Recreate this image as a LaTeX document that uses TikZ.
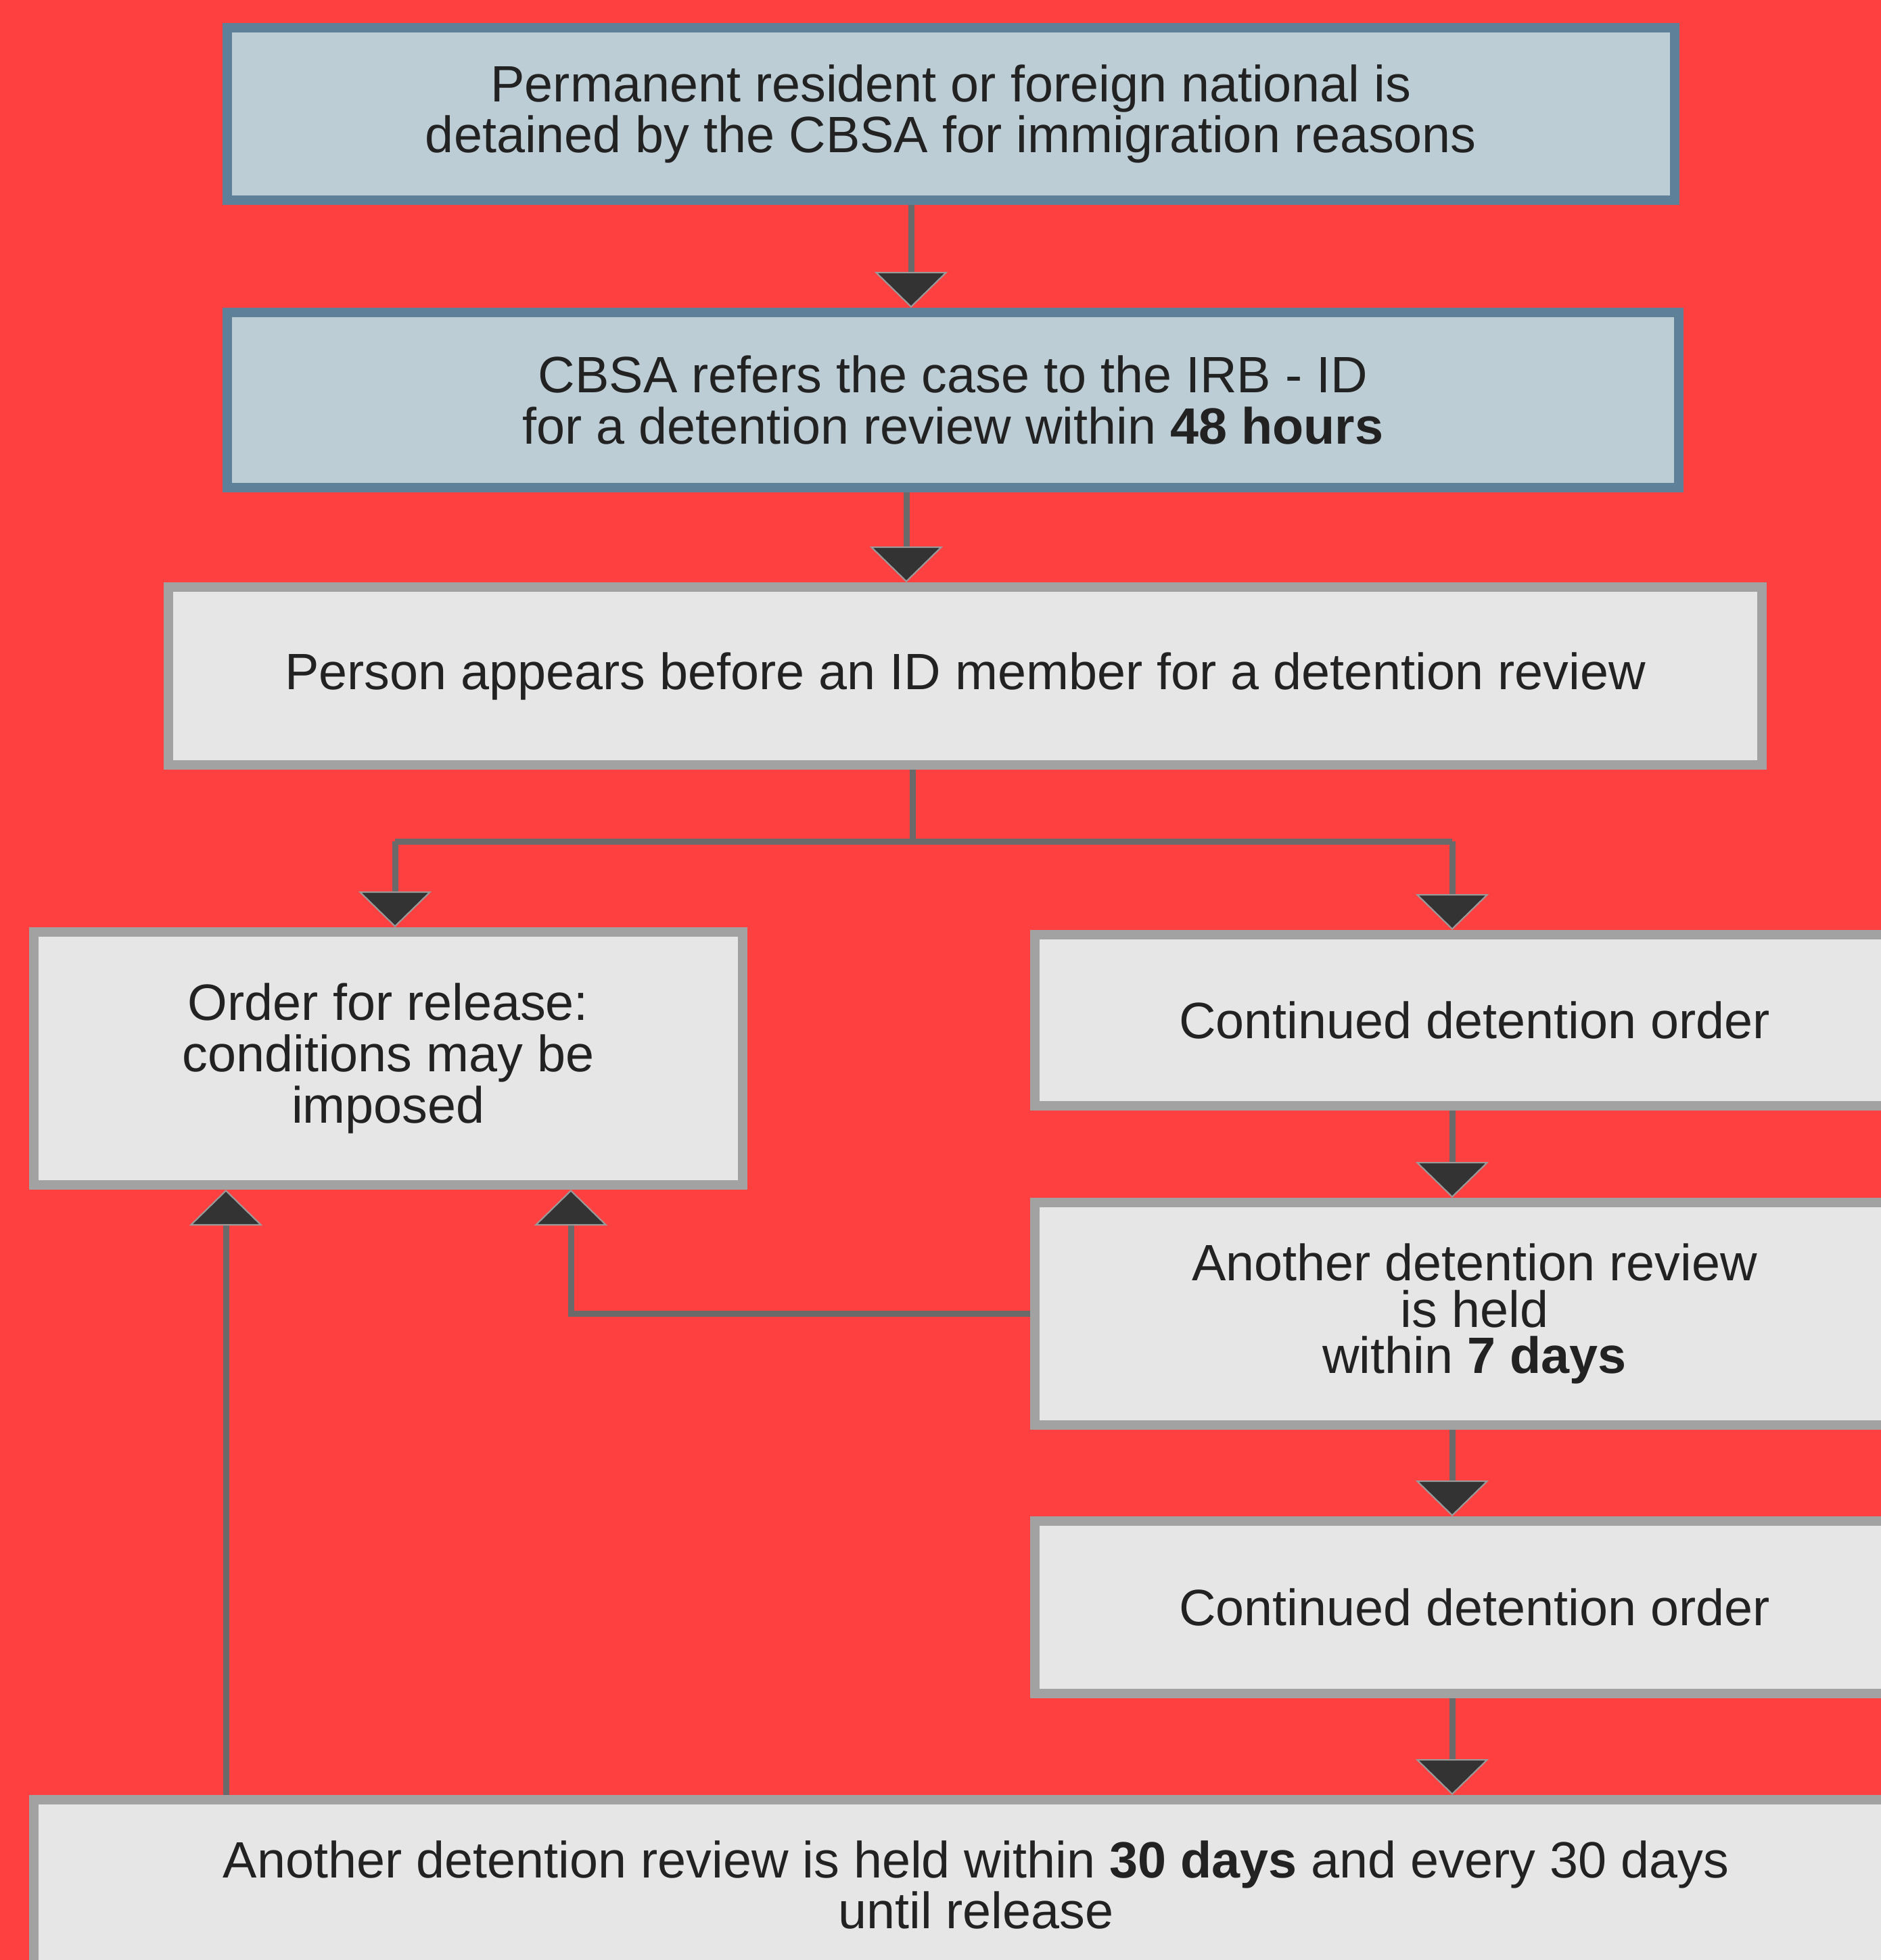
\documentclass[tikz,border=0pt]{standalone}
\usepackage{fontspec}
\setmainfont{Liberation Sans}
\usetikzlibrary{arrows.meta}

\definecolor{bgred}{HTML}{FF4040}
\definecolor{bluefill}{HTML}{BDCDD5}
\definecolor{blueedge}{HTML}{5E8199}
\definecolor{greyfill}{HTML}{E6E6E6}
\definecolor{greyedge}{HTML}{A2A2A2}
\definecolor{linegrey}{HTML}{6A6A6A}
\definecolor{headdark}{HTML}{333333}
\definecolor{headedge}{HTML}{9A9A9A}
\definecolor{textdark}{HTML}{222222}

\begin{document}
\begin{tikzpicture}[
	box/.style={rectangle, align=center, inner sep=0pt, line width=0.14cm,
		text=textdark, font=\fontsize{21.5}{21.5}\selectfont},
	bluebox/.style={box, fill=bluefill, draw=blueedge},
	greybox/.style={box, fill=greyfill, draw=greyedge},
	conn/.style={draw=linegrey, line width=0.09cm},
	arr/.style={conn, -{Triangle[width=1.08cm,length=0.53cm,fill=headdark,color=headedge,line width=0.6pt]}}
	]
	\useasboundingbox (0,0) rectangle (27.81,-28.98);
	\clip (0,0) rectangle (27.81,-28.98);
	\fill[bgred] (0,0) rectangle (27.81,-28.98);

	\begin{scope}
		% referral
		\node[bluebox, minimum width=21.40cm, minimum height=2.55cm] (detained) at (14.06,-1.685)
			{Permanent resident or foreign national is\\detained by the CBSA for immigration reasons};
		\node[bluebox, minimum width=21.46cm, minimum height=2.59cm] (refer) at (14.09,-5.915)
			{CBSA refers the case to the IRB - ID\\for a detention review within \textbf{48 hours}};

		% first review
		\node[greybox, minimum width=23.56cm, minimum height=2.63cm] (review) at (14.27,-9.995)
			{Person appears before an ID member for a detention review};

		% outcomes
		\node[greybox, minimum width=10.48cm, minimum height=3.74cm] (release) at (5.74,-15.65)
			{Order for release:\\conditions may be\\imposed};
		\node[greybox, minimum width=13.00cm, minimum height=2.53cm] (cont1) at (21.80,-15.085)
			{Continued detention order};
		\node[greybox, minimum width=13.00cm, minimum height=3.29cm,
			font=\fontsize{21.5}{19.6}\selectfont] (week) at (21.80,-19.425)
			{Another detention review\\is held\\within \textbf{7 days}};
		\node[greybox, minimum width=13.00cm, minimum height=2.55cm] (cont2) at (21.80,-23.765)
			{Continued detention order};
		\node[greybox, minimum width=27.86cm, minimum height=2.52cm] (month) at (14.43,-27.87)
			{Another detention review is held within \textbf{30 days} and every 30 days\\until release};

		% turning points
		\coordinate (c1) at (13.47,0);
		\coordinate (c2) at (13.40,0);
		\coordinate (split) at (13.49,-12.44);
		\coordinate (splitL) at (5.84,-12.44);
		\coordinate (splitR) at (21.47,-12.44);
		\coordinate (back1) at (8.44,0);
		\coordinate (back2) at (3.34,0);

		% arrows
		\draw[arr] (detained.south -| c1) -- (refer.north -| c1);
		\draw[arr] (refer.south -| c2) -- (review.north -| c2);
		\draw[conn] (review.south -| split) -- (split);
		\draw[conn] (splitL) -- (splitR);
		\draw[arr] (splitL) -- (release.north -| splitL);
		\draw[arr] (splitR) -- (cont1.north -| splitR);
		\draw[arr] (cont1.south -| splitR) -- (week.north -| splitR);
		\draw[arr] (week.west) -| (release.south -| back1);
		\draw[arr] (week.south -| splitR) -- (cont2.north -| splitR);
		\draw[arr] (cont2.south -| splitR) -- (month.north -| splitR);
		\draw[arr] (month.north -| back2) -- (release.south -| back2);
	\end{scope}
\end{tikzpicture}
\end{document}
